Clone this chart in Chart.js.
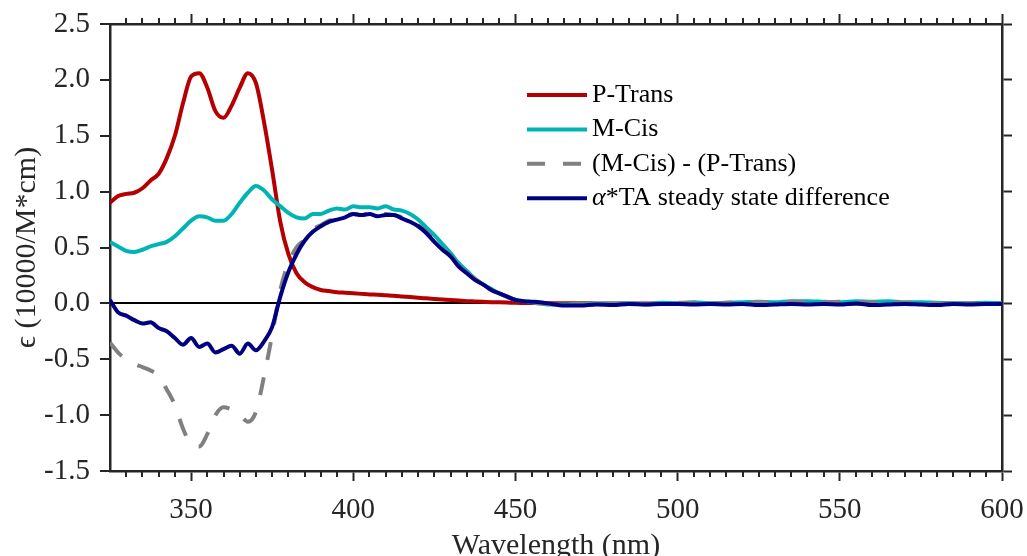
<!DOCTYPE html>
<html>
<head>
<meta charset="utf-8">
<script src="https://cdn.jsdelivr.net/npm/chart.js@4.4.1/dist/chart.umd.min.js"></script>
<style>
  html, body { margin: 0; padding: 0; background: #ffffff; }
  #grafico { display: block; }
</style>
</head>
<body>
<canvas id="grafico" width="1027" height="556"></canvas>
<script>
// Longitudes de onda (nm): cada 2.5 nm hasta 460, luego cada 5 nm
var longitudes = [
  325, 327.5, 330, 332.5, 335, 337.5, 340, 342.5, 345, 347.5,
  350, 352.5, 355, 357.5, 360, 362.5, 365, 367.5, 370, 372.5,
  375, 377.5, 380, 382.5, 385, 387.5, 390, 392.5, 395, 397.5,
  400, 402.5, 405, 407.5, 410, 412.5, 415, 417.5, 420, 422.5,
  425, 427.5, 430, 432.5, 435, 437.5, 440, 442.5, 445, 447.5,
  450, 452.5, 455, 457.5, 460,
  465, 470, 475, 480, 485, 490, 495, 500, 505, 510,
  515, 520, 525, 530, 535, 540, 545, 550, 555, 560,
  565, 570, 575, 580, 585, 590, 595, 600
];

// P-Trans (10000/M*cm)
var pTrans = [
  0.90, 0.96, 0.98, 0.99, 1.03, 1.10, 1.16, 1.30, 1.50, 1.79,
  2.03, 2.06, 1.93, 1.72, 1.66, 1.77, 1.93, 2.06, 1.97, 1.62,
  1.19, 0.73, 0.44, 0.27, 0.19, 0.145, 0.12, 0.11, 0.10, 0.095,
  0.09, 0.085, 0.08, 0.077, 0.072, 0.068, 0.062, 0.056, 0.05, 0.045,
  0.04, 0.035, 0.03, 0.025, 0.02, 0.017, 0.014, 0.011, 0.009, 0.007,
  0.005, 0.004, 0.003, 0.002, 0.002,
  0.001, 0.001, 0, 0, 0, 0, 0, 0, 0, 0,
  0, 0, 0, 0, 0, 0, 0, 0, 0, 0,
  0, 0, 0, 0, 0, 0, 0, 0
];

// M-Cis
var mCis = [
  0.55, 0.51, 0.47, 0.46, 0.48, 0.51, 0.53, 0.55, 0.60, 0.67,
  0.74, 0.78, 0.77, 0.74, 0.74, 0.80, 0.90, 0.99, 1.05, 1.01,
  0.93, 0.87, 0.81, 0.77, 0.76, 0.80, 0.80, 0.83, 0.85, 0.84,
  0.87, 0.86, 0.86, 0.85, 0.87, 0.84, 0.83, 0.80, 0.75, 0.68,
  0.61, 0.53, 0.45, 0.36, 0.29, 0.22, 0.17, 0.13, 0.09, 0.06,
  0.03, 0.02, 0.01, 0.0, -0.01,
  -0.01, 0.0, -0.005, 0.0, 0.0, -0.005, 0.005, 0.0, 0.01, 0.0,
  0.005, 0.01, 0.015, 0.01, 0.02, 0.02, 0.015, 0.01, 0.02, 0.015,
  0.02, 0.01, 0.01, 0.005, 0.0, 0.0, 0.005, 0.0
];

// (M-Cis) - (P-Trans)
var diferencia = [
  -0.35, -0.44, -0.50, -0.54, -0.57, -0.60, -0.65, -0.77, -0.91, -1.12,
  -1.26, -1.28, -1.17, -1.00, -0.93, -0.95, -0.99, -1.06, -0.97, -0.65,
  -0.28, 0.12, 0.36, 0.50, 0.57, 0.66, 0.70, 0.74, 0.76, 0.78,
  0.80, 0.79, 0.80, 0.79, 0.80, 0.79, 0.77, 0.75, 0.70, 0.64,
  0.57, 0.50, 0.42, 0.35, 0.28, 0.22, 0.17, 0.12, 0.09, 0.055,
  0.03, 0.02, 0.01, 0.0, -0.005,
  -0.01, -0.005, -0.01, -0.005, 0.0, -0.01, 0.0, 0.005, 0.005, 0.0,
  0.005, 0.01, 0.01, 0.005, 0.015, 0.01, 0.01, 0.015, 0.01, 0.01,
  0.015, 0.005, 0.005, 0.0, 0.0, -0.005, 0.0, 0.0
];

// alfa*TA diferencia en estado estacionario
var taEstado = [
  0.03, -0.08, -0.11, -0.15, -0.18, -0.17, -0.22, -0.25, -0.31, -0.37,
  -0.31, -0.39, -0.36, -0.44, -0.41, -0.38, -0.45, -0.36, -0.42, -0.34,
  -0.21, 0.06, 0.28, 0.44, 0.56, 0.64, 0.69, 0.73, 0.75, 0.77,
  0.80, 0.79, 0.80, 0.78, 0.79, 0.79, 0.76, 0.73, 0.69, 0.63,
  0.55, 0.48, 0.42, 0.33, 0.27, 0.21, 0.17, 0.12, 0.09, 0.06,
  0.03, 0.02, 0.015, 0.01, 0.0,
  -0.02, -0.02, -0.01, -0.015, -0.005, -0.01, -0.005, -0.005, -0.01, -0.005,
  -0.01, -0.005, -0.015, -0.01, -0.005, -0.01, -0.005, -0.01, 0.0, -0.015,
  -0.01, -0.005, -0.01, -0.015, -0.005, -0.01, -0.005, -0.005
];

var etiquetas = ['P-Trans', 'M-Cis', '(M-Cis) - (P-Trans)', '\u03b1*TA steady state difference'];
var xTicks = [350, 400, 450, 500, 550, 600];
var yTicks = [-1.5, -1.0, -0.5, 0, 0.5, 1.0, 1.5, 2.0, 2.5];

var COLOR_EJE = '#262626';
var FUENTE = 'Liberation Serif';

function puntos(valores) {
  return longitudes.map(function(l, i) { return { x: l, y: valores[i] }; });
}

// Marcas menores del eje x (cada 5 nm), arriba y abajo, hacia fuera
var pluginMarcas = {
  id: 'marcas',
  afterDraw: function(chart) {
    var ctx = chart.ctx;
    var area = chart.chartArea;
    var sx = chart.scales.x;
    ctx.save();
    ctx.strokeStyle = COLOR_EJE;
    ctx.lineWidth = 2;
    for (var v = 330; v < 600; v += 5) {
      if (v % 50 === 0) continue;
      var px = Math.round(sx.getPixelForValue(v));
      ctx.beginPath();
      ctx.moveTo(px, area.bottom);
      ctx.lineTo(px, area.bottom + 6);
      ctx.moveTo(px, area.top);
      ctx.lineTo(px, area.top - 6);
      ctx.stroke();
    }
    ctx.restore();
  }
};

// Leyenda dentro del área del gráfico
var pluginLeyenda = {
  id: 'leyenda',
  afterDraw: function(chart) {
    var ctx = chart.ctx;
    var area = chart.chartArea;
    var x0 = area.left + 417;
    var y0 = area.top + 71;
    var paso = 34.4;
    chart.data.datasets.forEach(function(ds, i) {
      var y = y0 + i * paso;
      ctx.save();
      ctx.strokeStyle = ds.borderColor;
      ctx.lineWidth = ds.borderWidth;
      ctx.setLineDash(ds.borderDash || []);
      ctx.beginPath();
      ctx.moveTo(x0, y);
      ctx.lineTo(x0 + 60, y);
      ctx.stroke();
      ctx.setLineDash([]);
      ctx.fillStyle = '#000000';
      ctx.textBaseline = 'middle';
      var texto = ds.label;
      var tx = x0 + 65;
      if (texto.charAt(0) === '\u03b1') {
        ctx.font = 'italic 26px "' + FUENTE + '"';
        ctx.fillText('\u03b1', tx, y);
        tx += ctx.measureText('\u03b1').width;
        texto = texto.slice(1);
      }
      ctx.font = '26px "' + FUENTE + '"';
      ctx.fillText(texto, tx, y);
      ctx.restore();
    });
  }
};

function fijarTicks(valores) {
  return function(scale) {
    scale.ticks = valores.map(function(v) { return { value: v }; });
  };
}

var ctx = document.getElementById('grafico');

new Chart(ctx, {
  type: 'line',
  data: {
    datasets: [
      { label: etiquetas[0], data: puntos(pTrans), borderColor: '#b40000', borderWidth: 4, order: 4 },
      { label: etiquetas[1], data: puntos(mCis), borderColor: '#00b4b4', borderWidth: 4, order: 3 },
      { label: etiquetas[2], data: puntos(diferencia), borderColor: '#808080', borderWidth: 4, borderDash: [18, 18], borderCapStyle: 'butt', order: 2 },
      { label: etiquetas[3], data: puntos(taEstado), borderColor: '#000080', borderWidth: 4, order: 1 }
    ]
  },
  options: {
    responsive: false,
    animation: false,
    devicePixelRatio: 1,
    layout: { padding: 0 },
    elements: {
      point: { radius: 0 },
      line: { cubicInterpolationMode: 'monotone', borderJoinStyle: 'round', fill: false }
    },
    plugins: {
      legend: { display: false },
      tooltip: { enabled: false }
    },
    scales: {
      x: {
        type: 'linear',
        position: 'bottom',
        min: 325,
        max: 600,
        afterBuildTicks: fijarTicks(xTicks),
        afterFit: function(s) { s.height = 85; s.paddingLeft = 0; s.paddingRight = 0; },
        ticks: {
          color: COLOR_EJE,
          font: { family: FUENTE, size: 29 },
          padding: 12,
          maxRotation: 0,
          autoSkip: false
        },
        grid: { drawOnChartArea: false, tickLength: 10, tickWidth: 2, tickColor: COLOR_EJE },
        border: { display: true, color: COLOR_EJE, width: 2.5 },
        title: {
          display: true,
          text: 'Wavelength (nm)',
          color: COLOR_EJE,
          font: { family: FUENTE, size: 30, lineHeight: 1 },
          padding: { top: 0, bottom: -5 }
        }
      },
      xTop: {
        type: 'linear',
        position: 'top',
        min: 325,
        max: 600,
        afterBuildTicks: fijarTicks(xTicks),
        afterFit: function(s) { s.height = 24; s.paddingLeft = 0; s.paddingRight = 0; },
        ticks: { display: false },
        grid: { drawOnChartArea: false, tickLength: 10, tickWidth: 2, tickColor: COLOR_EJE },
        border: { display: true, color: COLOR_EJE, width: 2.5 }
      },
      y: {
        type: 'linear',
        position: 'left',
        min: -1.5,
        max: 2.5,
        afterBuildTicks: fijarTicks(yTicks),
        afterFit: function(s) { s.width = 110; s.paddingTop = 0; s.paddingBottom = 0; },
        ticks: {
          color: COLOR_EJE,
          font: { family: FUENTE, size: 29 },
          padding: 10,
          callback: function(v) { return v.toFixed(1); }
        },
        grid: {
          drawOnChartArea: true,
          color: function(c) { return c.tick && c.tick.value === 0 ? '#000000' : 'rgba(0,0,0,0)'; },
          lineWidth: 2,
          tickLength: 10,
          tickWidth: 2,
          tickColor: COLOR_EJE
        },
        border: { display: true, color: COLOR_EJE, width: 2.5 },
        title: {
          display: true,
          text: '\u03f5 (10000/M*cm)',
          color: COLOR_EJE,
          font: { family: FUENTE, size: 30, lineHeight: 1 },
          padding: { top: 12, bottom: 0 }
        }
      },
      yRight: {
        type: 'linear',
        position: 'right',
        min: -1.5,
        max: 2.5,
        afterBuildTicks: fijarTicks(yTicks),
        afterFit: function(s) { s.width = 25; s.paddingTop = 0; s.paddingBottom = 0; },
        ticks: { display: false },
        grid: { drawOnChartArea: false, tickLength: 10, tickWidth: 2, tickColor: COLOR_EJE },
        border: { display: true, color: COLOR_EJE, width: 2.5 }
      }
    }
  },
  plugins: [pluginMarcas, pluginLeyenda]
});
</script>
</body>
</html>
